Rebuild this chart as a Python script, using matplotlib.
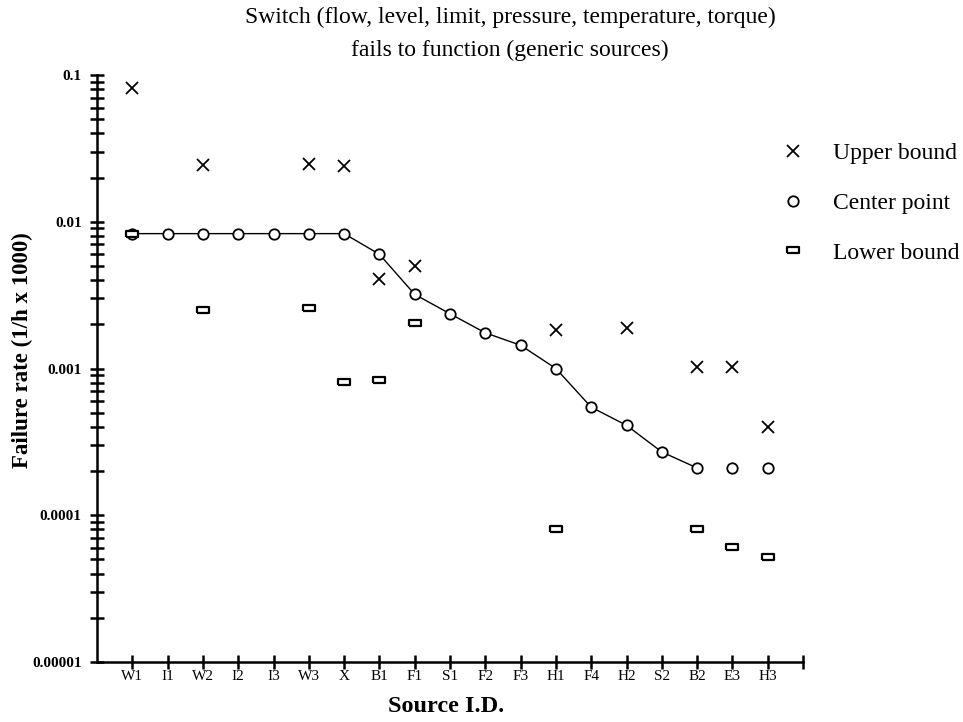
import matplotlib
matplotlib.use('Agg')
import matplotlib.pyplot as plt
from matplotlib.ticker import FixedLocator, LogLocator, NullFormatter, FixedFormatter

plt.rcParams['font.family'] = ['Liberation Serif', 'DejaVu Serif']

# ---- data -------------------------------------------------------------
sources = ['W1', 'I1', 'W2', 'I2', 'I3', 'W3', 'X', 'B1', 'F1', 'S1',
           'F2', 'F3', 'H1', 'F4', 'H2', 'S2', 'B2', 'E3', 'H3']

center_val = [0.0083, 0.0083, 0.0083, 0.0083, 0.0083, 0.0083, 0.0083,
              0.0060, 0.0032, 0.00236, 0.00175, 0.00144, 0.0010,
              0.000545, 0.00041, 0.00027, 0.00021, 0.00021, 0.00021]
n_joined = 17  # centre points W1..B2 joined by the curve

upper_src = ['W1', 'W2', 'W3', 'X', 'B1', 'F1', 'H1', 'H2', 'B2', 'E3', 'H3']
upper_val = [0.082, 0.0244, 0.0248, 0.024, 0.0041, 0.0050, 0.00182,
             0.0019, 0.00102, 0.00103, 0.00040]

lower_src = ['W1', 'W2', 'W3', 'X', 'B1', 'F1', 'H1', 'B2', 'E3', 'H3']
lower_val = [0.0083, 0.0025, 0.0026, 0.00081, 0.00083, 0.00203,
             0.000081, 0.000081, 0.000061, 0.000052]

y_major = [1e-5, 1e-4, 1e-3, 1e-2, 1e-1]
y_major_labels = ['0.00001', '0.0001', '0.001', '0.01', '0.1']

title_lines = ['Switch (flow, level, limit, pressure, temperature, torque)',
               'fails to function (generic sources)']
legend_labels = ['Upper bound', 'Center point', 'Lower bound']

# ---- figure ---------------------------------------------------------
W, H = 963, 722
fig = plt.figure(figsize=(W / 100, H / 100), dpi=100)
ax_l, ax_r, ax_t, ax_b = 97, 803, 75, 662
ax = fig.add_axes([ax_l / W, 1 - ax_b / H, (ax_r - ax_l) / W, (ax_b - ax_t) / H])

xc = list(range(len(sources)))
xu = [sources.index(s) for s in upper_src]
xl = [sources.index(s) for s in lower_src]

rect = [(-1, -0.62), (1, -0.62), (1, 0.62), (-1, 0.62), (-1, -0.62)]

ax.plot(xc[:n_joined], center_val[:n_joined], color='black', lw=1.0, zorder=2)
h_c, = ax.plot(xc, center_val, ls='none', marker='o', ms=7.5, mfc='white',
               mec='black', mew=1.3, zorder=3)
h_u, = ax.plot(xu, upper_val, ls='none', marker='x', ms=8.5, mec='black',
               mew=1.3, zorder=3)
h_l, = ax.plot(xl, lower_val, ls='none', marker=rect, ms=8, mfc='white',
               mec='black', mew=1.6, zorder=4)

ax.set_yscale('log')
ax.set_ylim(1e-5, 0.1)
ax.set_xlim(-1, len(sources))

ax.xaxis.set_major_locator(FixedLocator(list(range(len(sources) + 1))))
ax.xaxis.set_major_formatter(FixedFormatter(sources + ['']))
ax.yaxis.set_major_locator(FixedLocator(y_major))
ax.yaxis.set_major_formatter(FixedFormatter(y_major_labels))
ax.yaxis.set_minor_locator(LogLocator(base=10, subs=[2, 3, 4, 5, 6, 7, 8, 9]))
ax.yaxis.set_minor_formatter(NullFormatter())

for s in ['top', 'right']:
    ax.spines[s].set_visible(False)
for s in ['left', 'bottom']:
    ax.spines[s].set_linewidth(1.8)

ax.tick_params(axis='y', which='both', direction='inout', length=10, width=1.8,
               labelsize=11, pad=6)
ax.tick_params(axis='x', which='both', direction='inout', length=10, width=1.8,
               labelsize=11, pad=1)
for t in ax.get_yticklabels():
    t.set_fontweight('bold')

pw, ph = ax_r - ax_l, ax_b - ax_t
ax.set_ylabel('Failure rate (1/h x 1000)', fontsize=16.5, fontweight='bold',
              va='center')
ax.yaxis.set_label_coords((22 - ax_l) / pw, (ax_b - 350) / ph)
ax.set_xlabel('Source I.D.', fontsize=17.5, fontweight='bold', va='center')
ax.xaxis.set_label_coords((446 - ax_l) / pw, -(707 - ax_b) / ph)

fig.text(510 / W, 1 - 17 / H, title_lines[0], ha='center', va='center',
         fontsize=17)
fig.text(510 / W, 1 - 50 / H, title_lines[1], ha='center', va='center',
         fontsize=17)

fig.legend([h_u, h_c, h_l], legend_labels, loc='upper left',
           bbox_to_anchor=(772 / W, 1 - 133 / H), frameon=False,
           fontsize=17, handlelength=1.0, handletextpad=1.2,
           labelspacing=1.2, borderaxespad=0)

fig.savefig('out.png', dpi=100, facecolor='white')
